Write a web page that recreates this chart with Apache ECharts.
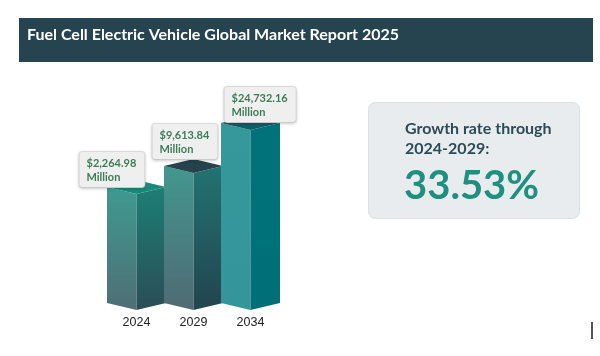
<!DOCTYPE html>
<html><head><meta charset="utf-8">
<script src="https://cdn.jsdelivr.net/npm/echarts@6/dist/echarts.min.js"></script>
<style>html,body{margin:0;padding:0;background:#fff}#c{width:600px;height:356px}</style>
</head><body><div id="c"></div>
<script>
const titleText = 'Fuel Cell Electric Vehicle Global Market Report 2025';
const years = ['2024', '2029', '2034'];
const marketValues = [2264.98, 9613.84, 24732.16];   // USD million (label values)
const barHeights = [116, 137, 180];                  // bar heights as drawn in the infographic (not to scale)
const valueUnit = 'Million';
const growthLines = ['Growth rate through', '2024-2029:'];
const growthRate = 33.53;

// styles
const faceColors = [
  { left: ['#3e9a90', '#506e76'], right: ['#1c7f76', '#2b4d56'], top: '#1a8b7b' },
  { left: ['#42978f', '#506a74'], right: ['#227371', '#23444f'], top: '#25434d' },
  { left: ['#36989b', '#34969a'], right: ['#01727a', '#006f78'], top: '#0f5f67' }
];
const labelOffsets = [[-57, -7], [-41, -14], [-26, -8]];

const fmt = v => '$' + v.toLocaleString('en-US', { minimumFractionDigits: 2, maximumFractionDigits: 2 });

const chart = echarts.init(document.getElementById('c'));
const HALF = 29.5, DY = 7;

chart.setOption({
  backgroundColor: '#ffffff',
  animation: false,
  grid: { left: 108, width: 171, top: 110, bottom: 46 },
  xAxis: {
    type: 'category', data: years,
    axisLine: { show: false }, axisTick: { show: false },
    axisLabel: { color: '#222', fontSize: 12.5, fontFamily: 'Liberation Sans', margin: 6 }
  },
  yAxis: { type: 'value', min: 0, max: 200, show: false, splitLine: { show: false } },
  series: [{
    type: 'custom',
    data: barHeights.map((h, i) => [i, h, marketValues[i]]),
    renderItem: function (params, api) {
      const i = api.value(0);
      const top = api.coord([i, api.value(1)]);
      const bot = api.coord([i, 0]);
      const cx = top[0], ty = top[1], by = bot[1];
      const c = faceColors[i];
      const grad = (a, b) => new echarts.graphic.LinearGradient(0, 0, 0, 1, [{ offset: 0, color: a }, { offset: 1, color: b }]);
      const off = labelOffsets[i];
      return {
        type: 'group',
        children: [
          { type: 'polygon', shape: { points: [[cx - HALF, ty - DY], [cx, ty], [cx, by], [cx - HALF, by - DY]] }, style: { fill: grad(c.left[0], c.left[1]) } },
          { type: 'polygon', shape: { points: [[cx, ty], [cx + HALF, ty - DY], [cx + HALF, by - DY], [cx, by]] }, style: { fill: grad(c.right[0], c.right[1]) } },
          { type: 'polygon', shape: { points: [[cx - HALF, ty - DY], [cx, ty], [cx + HALF, ty - DY], [cx, ty - 2 * DY]] }, style: { fill: c.top } },
          {
            type: 'text', x: cx + off[0], y: ty + off[1],
            style: {
              text: fmt(api.value(2)) + '\n' + valueUnit,
              fill: '#3b7d56', font: 'bold 11px Lato', lineHeight: 13.5,
              align: 'left', verticalAlign: 'bottom',
              backgroundColor: '#efefef', padding: [5, 8, 3, 7], borderRadius: 3,
              borderColor: '#e0e0e0', borderWidth: 1,
              shadowBlur: 3, shadowColor: 'rgba(0,0,0,0.15)', shadowOffsetY: 1
            }
          }
        ]
      };
    }
  }],
  graphic: [
    { type: 'rect', shape: { x: 19, y: 18, width: 574, height: 44 }, style: { fill: '#26444f' } },
    { type: 'text', x: 27, y: 35, style: { text: titleText, fill: '#ffffff', font: 'bold 16px Lato', verticalAlign: 'middle' } },
    { type: 'rect', shape: { x: 368.5, y: 102.5, width: 211, height: 116, r: 7 }, style: { fill: '#e9ecee', stroke: '#dce0e2', lineWidth: 1 } },
    { type: 'text', x: 405, y: 129, style: { text: growthLines[0], fill: '#2b4b57', font: 'bold 16px Lato', verticalAlign: 'middle' } },
    { type: 'text', x: 405, y: 149, style: { text: growthLines[1], fill: '#2b4b57', font: 'bold 16px Lato', verticalAlign: 'middle' } },
    { type: 'text', x: 404, y: 186, style: { text: growthRate.toFixed(2) + '%', fill: '#1f8f80', font: 'bold 40px Lato', verticalAlign: 'middle' } },
    { type: 'rect', shape: { x: 591, y: 322, width: 2, height: 17 }, style: { fill: '#555' } }
  ]
});
</script>
</body></html>
